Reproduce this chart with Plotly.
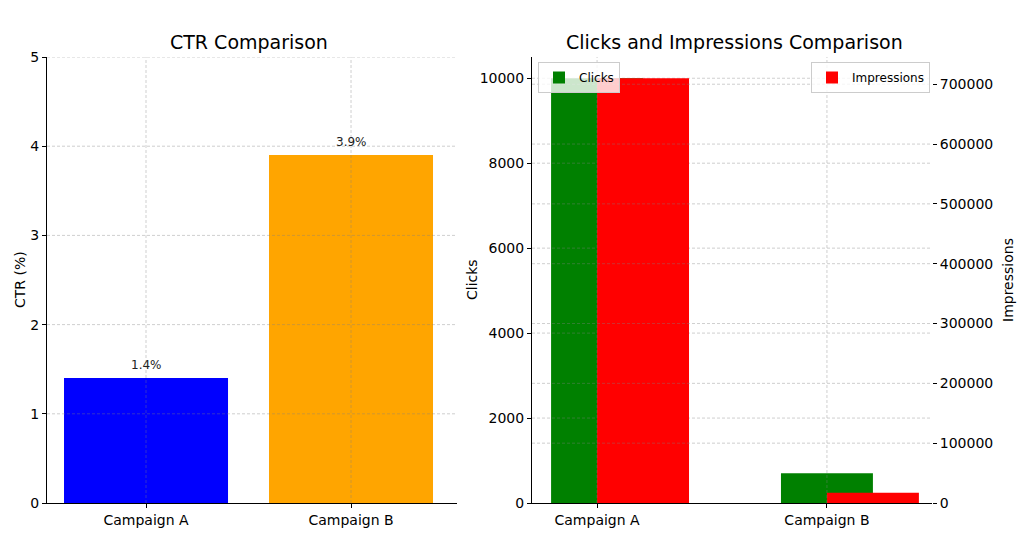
import plotly.graph_objects as go

# ---- data ----
campaigns = ["Campaign A", "Campaign B"]
ctr = [1.4, 3.9]
ctr_colors = ["blue", "orange"]
clicks = [10000, 700]
impressions = [710000, 17000]
ctr_ticks = [0, 1, 2, 3, 4, 5]
click_ticks = [0, 2000, 4000, 6000, 8000, 10000]
impr_ticks = [0, 100000, 200000, 300000, 400000, 500000, 600000, 700000]

W, H = 1028, 556
FONT = "DejaVu Sans"
GRID = "rgba(128,128,128,0.38)"
DASH = "3px,2px"

x_pos = list(range(len(campaigns)))
xr1 = [-0.483, 1.517]
xr2 = [-0.283, 1.457]
yr1 = [0, 5]
yr2 = [0, max(clicks) * 1.05]
yr3 = [0, max(impressions) * 1.05]

fig = go.Figure()

# CTR bars
fig.add_bar(x=x_pos, y=ctr, width=0.8, marker=dict(color=ctr_colors, line_width=0),
            xaxis="x", yaxis="y", showlegend=False, hoverinfo="skip")

# Clicks bars
fig.add_bar(x=x_pos, y=clicks, width=0.4, offset=-0.2, marker=dict(color="green", line_width=0),
            name="Clicks", xaxis="x2", yaxis="y2", legend="legend", hoverinfo="skip")

# clicks-axis gridlines (drawn above green bars, below red bars)
gx, gy = [], []
for t in click_ticks[1:]:
    gx += [xr2[0], xr2[1], None]
    gy += [t, t, None]
fig.add_scatter(x=gx, y=gy, mode="lines", line=dict(color=GRID, width=1, dash=DASH),
                xaxis="x2", yaxis="y2", showlegend=False, hoverinfo="skip", cliponaxis=True)

# Impressions bars
fig.add_bar(x=x_pos, y=impressions, width=0.4, offset=0, marker=dict(color="red", line_width=0),
            name="Impressions", xaxis="x2", yaxis="y3", legend="legend2", hoverinfo="skip")

shapes = []
gl = dict(color=GRID, width=1, dash=DASH)
for t in ctr_ticks[1:]:
    shapes.append(dict(type="line", xref="x domain", yref="y", x0=0, x1=1, y0=t, y1=t,
                       line=gl, layer="above"))
for p in x_pos:
    shapes.append(dict(type="line", xref="x", yref="y domain", x0=p, x1=p, y0=0, y1=1,
                       line=gl, layer="above"))
    shapes.append(dict(type="line", xref="x2", yref="y2 domain", x0=p, x1=p, y0=0, y1=1,
                       line=gl, layer="above"))
for t in impr_ticks[1:]:
    shapes.append(dict(type="line", xref="x2 domain", yref="y3", x0=0, x1=1, y0=t, y1=t,
                       line=gl, layer="above"))

annotations = []
for p, v in zip(x_pos, ctr):
    annotations.append(dict(x=p, y=v, xref="x", yref="y", text=f"{v}%", showarrow=False,
                            yanchor="bottom", yshift=4, font=dict(size=12, color="#222")))

def ann(text, x, y, size, angle=0):
    annotations.append(dict(text=text, x=x / W, y=1 - y / H, xref="paper", yref="paper",
                            showarrow=False, textangle=angle, xanchor="center", yanchor="middle",
                            font=dict(size=size, color="black")))

ann("CTR Comparison", 249, 42, 19)
ann("Clicks and Impressions Comparison", 734, 42, 19)
ann("CTR (%)", 20, 280, 14, -90)
ann("Clicks", 472, 280, 14, -90)
ann("Impressions", 1008, 280, 14, -90)

ydom = [53 / H, 499 / H]
axis_common = dict(showline=True, linecolor="black", linewidth=1, ticks="outside", ticklen=4,
                   tickcolor="black", showgrid=False, zeroline=False, automargin=False,
                   tickfont=dict(size=14, color="black"))

fig.update_layout(
    width=W, height=H, autosize=False,
    margin=dict(l=0, r=0, t=0, b=0, autoexpand=False),
    paper_bgcolor="white", plot_bgcolor="rgba(0,0,0,0)",
    font=dict(family=FONT, color="black"),
    barmode="overlay",
    hovermode=False,
    xaxis=dict(domain=[47 / W, 457 / W], anchor="y", range=xr1, tickvals=x_pos,
               ticktext=campaigns, **axis_common),
    yaxis=dict(domain=ydom, anchor="x", range=yr1, tickvals=ctr_ticks, **axis_common),
    xaxis2=dict(domain=[532 / W, 932 / W], anchor="y2", range=xr2, tickvals=x_pos,
                ticktext=campaigns, **axis_common),
    yaxis2=dict(domain=ydom, anchor="x2", range=yr2, tickvals=click_ticks, tickformat="d",
                **axis_common),
    yaxis3=dict(overlaying="y2", side="right", anchor="x2", range=yr3, tickvals=impr_ticks,
                tickformat="d", showline=False, ticks="outside", ticklen=4, tickcolor="black",
                showgrid=False, zeroline=False, automargin=False,
                tickfont=dict(size=14, color="black")),
    legend=dict(x=538 / W, y=1 - 62 / H, xanchor="left", yanchor="top",
                bgcolor="rgba(255,255,255,0.8)", bordercolor="#cccccc", borderwidth=1,
                font=dict(size=12, color="black"), itemwidth=30, tracegroupgap=0),
    legend2=dict(x=930 / W, y=1 - 62 / H, xanchor="right", yanchor="top",
                 bgcolor="rgba(255,255,255,0.8)", bordercolor="#cccccc", borderwidth=1,
                 font=dict(size=12, color="black"), itemwidth=30, tracegroupgap=0),
    shapes=shapes,
    annotations=annotations,
)

fig.write_html("out.html")
